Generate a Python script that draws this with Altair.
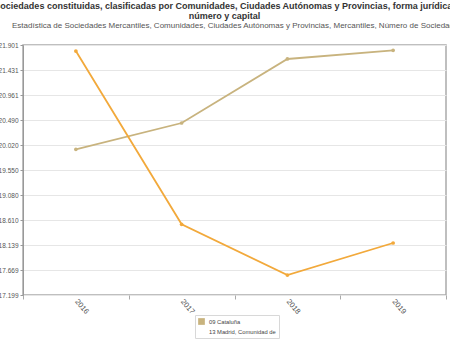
import altair as alt
import pandas as pd

years = ["2016", "2017", "2018", "2019"]
cataluna = [19939, 20434, 21638, 21801]
madrid = [21788, 18528, 17575, 18177]
series_names = ["09 Cataluña", "13 Madrid, Comunidad de"]
series_colors = ["#c8b37e", "#f2a93b"]
y_ticks = [17199, 17669.2, 18139.4, 18609.6, 19079.8, 19550, 20020.2,
           20490.4, 20960.6, 21430.8, 21901]
title_lines = [
    "Sociedades constituidas, clasificadas por Comunidades, Ciudades Autónomas y Provincias, forma jurídica,",
    "número y capital",
]
subtitle = ("Estadística de Sociedades Mercantiles, Comunidades, Ciudades Autónomas y "
            "Provincias, Mercantiles, Número de Sociedades")

df = pd.DataFrame({
    "year": years * 2,
    "value": cataluna + madrid,
    "serie": [series_names[0]] * 4 + [series_names[1]] * 4,
})
legend_df = pd.DataFrame({"leyenda": series_names})

FONT = "Liberation Sans"

x = alt.X(
    "year:N",
    scale=alt.Scale(type="band", paddingInner=0, paddingOuter=0),
    axis=alt.Axis(title=None, labelAngle=50, tickBand="extent", grid=False,
                  labelFontSize=7.5, labelColor="#555", labelFont=FONT,
                  domain=False, tickColor="#aaa", tickSize=4, labelPadding=1),
)
y = alt.Y(
    "value:Q",
    scale=alt.Scale(domain=[17199, 21901], nice=False, zero=False),
    axis=alt.Axis(title=None, values=y_ticks,
                  labelExpr="replace(format(datum.value, ',.0f'), ',', '.')",
                  labelFontSize=6.5, labelColor="#555", labelFont=FONT,
                  gridColor="#e6e6e6", domainColor="#999", tickColor="#999",
                  tickSize=3, labelPadding=2),
)

line_scale = alt.Scale(domain=series_names, range=series_colors)

lines = alt.Chart(df).mark_line(strokeWidth=1.8).encode(
    x=x, y=y,
    stroke=alt.Stroke("serie:N", scale=line_scale, legend=None),
)

points = alt.Chart(df).mark_circle(size=14, opacity=1).encode(
    x=x, y=y,
    fill=alt.Fill("serie:N", scale=line_scale, legend=None),
)

legend_layer = alt.Chart(legend_df).mark_square(size=45, opacity=1).encode(
    x=alt.value(-600), y=alt.value(100),
    color=alt.Color(
        "leyenda:N",
        scale=alt.Scale(domain=series_names, range=[series_colors[0], "#ffffff"]),
        legend=alt.Legend(
            title=None, orient="none", legendX=172, legendY=270,
            direction="vertical", strokeColor="#d8d8d8", fillColor="#ffffff",
            padding=3, symbolType="square", symbolSize=45, symbolStrokeWidth=0,
            labelFontSize=5.8, labelFont=FONT, labelColor="#444", rowPadding=3,
        ),
    ),
)

subtitle_layer = alt.Chart(pd.DataFrame({"t": [subtitle]})).mark_text(
    align="left", baseline="middle", fontSize=8.0, color="#555", font=FONT
).encode(text="t:N", x=alt.value(-11), y=alt.value(-19))

chart = alt.layer(lines, points, legend_layer, subtitle_layer).properties(
    width=423,
    height=250,
    padding={"left": 23, "top": 45, "right": 4, "bottom": 58},
    autosize=alt.AutoSizeParams(type="none"),
    title=alt.TitleParams(
        text=title_lines, fontSize=9, font=FONT, fontWeight="bold", color="#333",
        anchor="middle", dx=-10, lineHeight=10.5, offset=1, frame="group",
    ),
).resolve_scale(color="independent", fill="independent", stroke="independent"
).configure_view(stroke="#aaa", strokeWidth=1.5)

chart.save("out.html", embed_options={"renderer": "svg", "actions": False})
